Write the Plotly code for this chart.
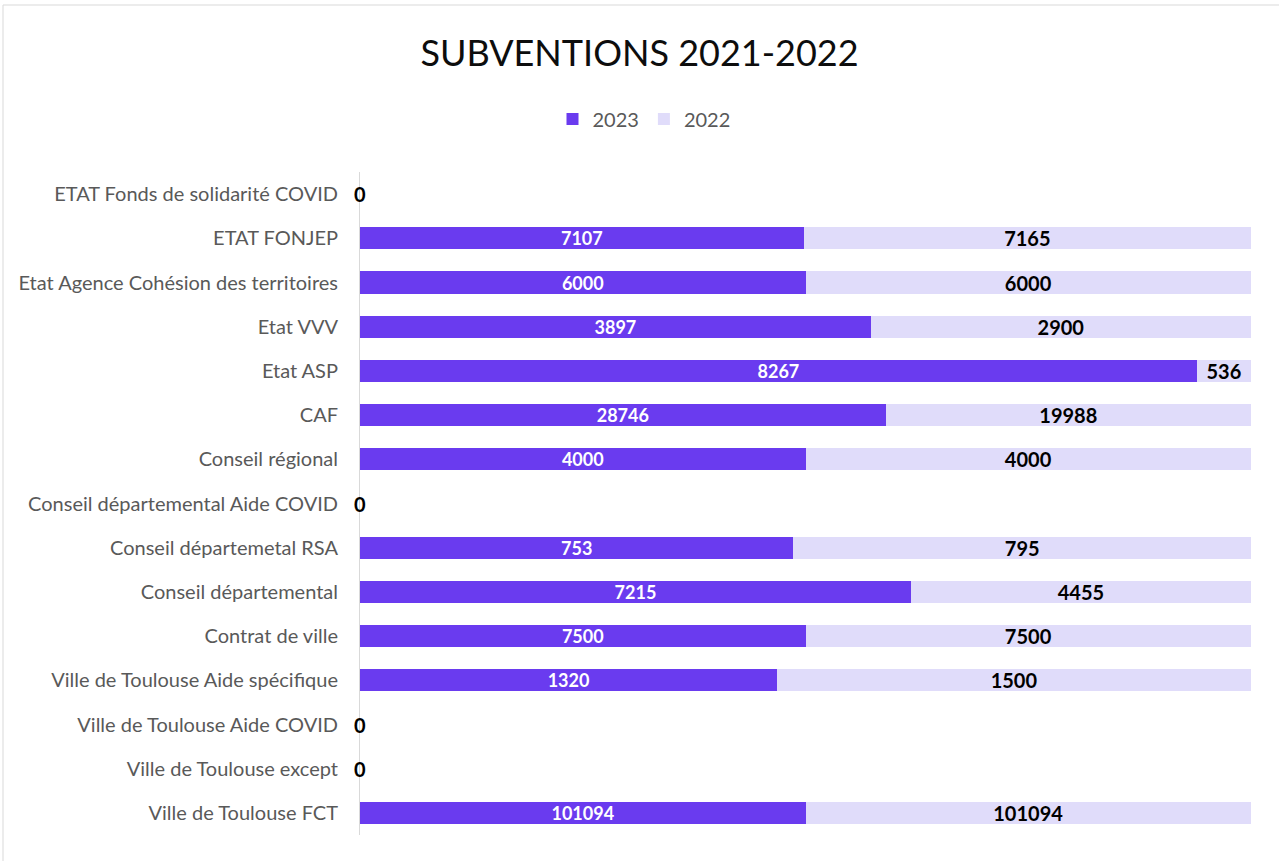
import plotly.graph_objects as go

categories = [
    "ETAT Fonds de solidarité COVID",
    "ETAT FONJEP",
    "Etat Agence Cohésion des territoires",
    "Etat VVV",
    "Etat ASP",
    "CAF",
    "Conseil régional",
    "Conseil départemental Aide COVID",
    "Conseil départemetal RSA",
    "Conseil départemental",
    "Contrat de ville",
    "Ville de Toulouse Aide spécifique",
    "Ville de Toulouse Aide COVID",
    "Ville de Toulouse except",
    "Ville de Toulouse FCT",
]
values_2023 = [0, 7107, 6000, 3897, 8267, 28746, 4000, 0, 753, 7215, 7500, 1320, 0, 0, 101094]
values_2022 = [0, 7165, 6000, 2900, 536, 19988, 4000, 0, 795, 4455, 7500, 1500, 0, 0, 101094]

FONT = "Lato"
PURPLE = "#6A3BEF"
LAVENDER = "#E0DCFA"

fig = go.Figure()
fig.add_trace(go.Bar(
    y=categories, x=values_2023, name="2023", orientation="h",
    marker=dict(color=PURPLE, line=dict(width=0)),
    text=[str(v) for v in values_2023], textposition="inside", textangle=0,
    insidetextanchor="middle", constraintext="none",
    textfont=dict(family=FONT, size=18, color="white", weight="bold"),
))
fig.add_trace(go.Bar(
    y=categories, x=values_2022, name="2022", orientation="h",
    marker=dict(color=LAVENDER, line=dict(width=0)),
    text=[str(v) for v in values_2022], textposition="inside", textangle=0,
    insidetextanchor="middle", constraintext="none",
    textfont=dict(family=FONT, size=20, color="black", weight="bold"),
))

annotations = []
for c, a, b in zip(categories, values_2023, values_2022):
    if a + b == 0:
        annotations.append(dict(x=0, y=c, xref="x", yref="y", text=str(a),
                                showarrow=False, xanchor="center", yanchor="middle",
                                font=dict(family=FONT, size=20, color="black", weight="bold")))

L, R, T, B = 360, 28, 172, 26
W, H = 1279, 861
pw, ph = W - L - R, H - T - B

fig.update_layout(
    width=W, height=H,
    barmode="stack", barnorm="percent", bargap=0.5,
    plot_bgcolor="white", paper_bgcolor="white",
    margin=dict(l=L, r=R, t=T, b=B, pad=0),
    annotations=annotations,
    title=dict(text="SUBVENTIONS 2021-2022", x=0.5, xref="container", xanchor="center",
               y=1 - 53 / H, yanchor="middle",
               font=dict(family=FONT, size=36, color="#0d0d0d")),
    legend=dict(orientation="h", x=(644 - L) / pw, xref="paper", xanchor="center",
                y=1 + (T - 119) / ph, yanchor="middle",
                font=dict(family=FONT, size=20, color="#595959"),
                traceorder="normal", itemwidth=30),
    xaxis=dict(range=[0, 100], showticklabels=False, showgrid=False, zeroline=False,
               showline=False, ticks=""),
    yaxis=dict(range=[len(categories) - 0.5, -0.5], showgrid=False, zeroline=False,
               showline=True, linecolor="#D9D9D9", linewidth=1, ticks="",
               ticklabelstandoff=17,
               tickfont=dict(family=FONT, size=20, color="#595959")),
    shapes=[dict(type="line", xref="paper", yref="paper",
                 x0=(3 - L) / pw, x1=(W + 5 - L) / pw,
                 y0=1 + (T - 5) / ph, y1=1 + (T - 5) / ph,
                 line=dict(color="#D9D9D9", width=1)),
            dict(type="line", xref="paper", yref="paper",
                 x0=(3 - L) / pw, x1=(3 - L) / pw,
                 y0=1 + (T - 5) / ph, y1=-(B + 5) / ph,
                 line=dict(color="#D9D9D9", width=1))],
)
fig.write_html("out.html", config={"displayModeBar": False},
               post_script="document.body.style.margin='0';")
